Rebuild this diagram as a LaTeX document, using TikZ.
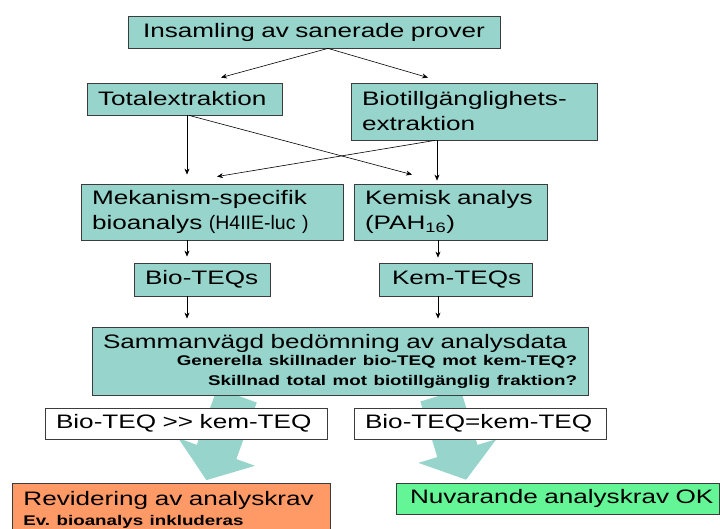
\documentclass[tikz,border=0pt]{standalone}
\usepackage{fontspec}
\setmainfont{Liberation Sans}[FakeStretch=1.34]
\newfontfamily\narrowfont{Liberation Sans}
\usetikzlibrary{arrows.meta, backgrounds}

\definecolor{boxteal}{RGB}{150,212,204}
\definecolor{boxorange}{RGB}{255,153,102}
\definecolor{boxgreen}{RGB}{100,245,150}
\definecolor{boxline}{RGB}{60,60,60}

\newcommand{\smalltxt}{\fontsize{14}{18}\selectfont\bfseries}

\begin{document}
\begin{tikzpicture}[
            x = 1pt, y = 1pt, % one unit is one pixel
            > = {Stealth[length=6pt, width=5pt]}, % arrow head style
            semithick, % line style
            font = \fontsize{19.5}{25}\selectfont
        ]

        \tikzstyle{box}=[
            draw = boxline,
            fill = boxteal,
            line width = 0.8pt,
            inner xsep = 11pt,
            inner ysep = 0pt,
            align = left
        ]
        \tikzstyle{wbox}=[box, fill = white]
        \tikzstyle{bigarrow}=[
            draw = boxteal,
            line width = 42pt,
            shorten > = 3pt,
            -{Triangle[length=30pt, width=80pt]}
        ]

        \useasboundingbox (0,0) rectangle (720,529);

        \node[box, text width=350pt, minimum height=32pt, align=center] (insam) at (314,497) {Insamling av sanerade prover};
        \node[box, text width=173pt, minimum height=32pt] (total) at (184.5,430) {Totalextraktion};
        \node[box, text width=224pt, minimum height=57pt] (biox) at (474,417.5) {Biotillgänglighets-\\extraktion};
        \node[box, text width=240pt, minimum height=56pt] (mek) at (212,317) {Mekanism-specifik\\bioanalys {\narrowfont (H4IIE-luc )}};
        \node[box, text width=171pt, minimum height=56pt] (kem) at (450.5,317) {Kemisk analys\\(PAH\textsubscript{16})};
        \node[box, inner xsep=8pt, text width=120pt, minimum height=33pt] (bioteq) at (202,249.5) {\hspace*{3pt}Bio-TEQs};
        \node[box, inner xsep=8pt, text width=137pt, minimum height=33pt] (kemteq) at (455.5,249.5) {\hspace*{5pt}Kem-TEQs};
        \node[box, text width=474pt, minimum height=68pt] (samman) at (340,168) {Sammanvägd bedömning av analysdata\\[-8pt]
            \hspace*{\fill}{\smalltxt Generella skillnader bio-TEQ mot kem-TEQ?}\\[-5pt]
            \hspace*{\fill}{\smalltxt Skillnad total mot biotillgänglig fraktion?}};
        \node[box, fill=boxorange, anchor=north west, text width=296pt, inner ysep=8pt] (revid) at (12,46) {Revidering av analyskrav\\[-5pt]
            {\smalltxt Ev.\ bioanalys inkluderas}};
        \node[box, fill=boxgreen, inner xsep=4pt, text width=315pt, minimum height=31pt] (nuvar) at (557.5,30.5) {\hspace*{10pt}Nuvarande analyskrav OK};

        % block arrows
        \begin{scope}[on background layer]
            \draw[bigarrow] ([xshift=-103pt]samman.south) -- ([xshift=34pt]revid.north);
            \draw[bigarrow] ([xshift=100.5pt]samman.south) -- ([xshift=-90.5pt]nuvar.north);
        \end{scope}

        \node[wbox, text width=260pt, minimum height=31pt] (biogg) at (186,105.5) {Bio-TEQ >{}> kem-TEQ};
        \node[wbox, text width=230pt, minimum height=31pt] (bioeq) at (480,105.5) {Bio-TEQ=kem-TEQ};

        % extraction paths
        \path[->] ([xshift=14pt]insam.south) edge ([xshift=36.5pt, yshift=5pt]total.north);
        \path[->] ([xshift=14pt]insam.south) edge ([xshift=-46pt, yshift=5pt]biox.north);

        % analysis paths
        \path[->] ([xshift=2.5pt]total.south) edge ([xshift=-25pt, yshift=9pt]mek.north);
        \path[->] ([xshift=4.5pt]total.south) edge ([xshift=-38.5pt, yshift=9pt]kem.north);
        \path[->] ([xshift=-39pt]biox.south) edge ([xshift=5pt, yshift=7pt]mek.north);
        \path[->] ([xshift=-37pt]biox.south) edge ([xshift=-13.5pt, yshift=3pt]kem.north);

        % TEQ paths
        \path[->] ([xshift=-25pt]mek.south) edge ([xshift=-15pt, yshift=6pt]bioteq.north);
        \path[->] ([xshift=-12.5pt]kem.south) edge ([xshift=-17.5pt, yshift=5pt]kemteq.north);
        \path[->] ([xshift=-15pt]bioteq.south) edge ([xshift=-153pt, yshift=8pt]samman.north);
        \path[->] ([xshift=-17.5pt]kemteq.south) edge ([xshift=98pt, yshift=8pt]samman.north);

    \end{tikzpicture}
\end{document}
